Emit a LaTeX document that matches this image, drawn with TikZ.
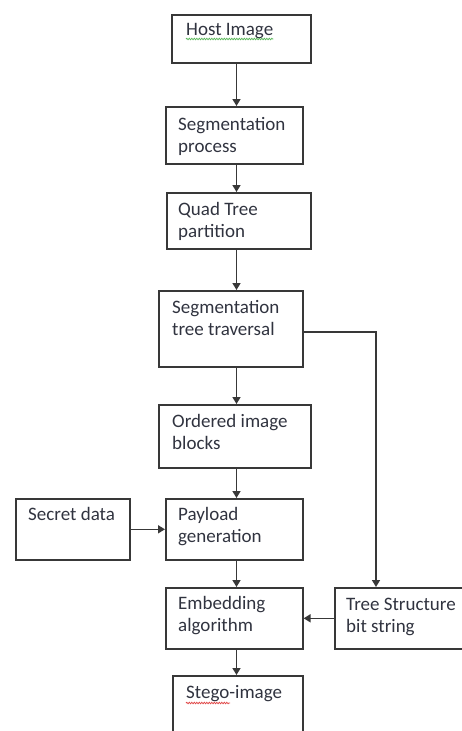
\documentclass[tikz,border=0pt]{standalone}
\usepackage{fontspec}
\setmainfont{Carlito}
\usepackage{tikz}
\usetikzlibrary{arrows.meta,decorations.pathmorphing}
\definecolor{boxline}{HTML}{383838}
\definecolor{ink}{HTML}{30333F}
\definecolor{spellgreen}{HTML}{5CB85C}
\definecolor{spellred}{HTML}{E04848}

\begin{document}
\begin{tikzpicture}[x=1pt,y=-1pt]
\tikzstyle{every node}+=[inner sep=0pt]
\tikzstyle{blk}=[draw=boxline, line width=1.6pt, anchor=north west]
\tikzstyle{txt}=[anchor=base west, align=left, text=ink, font=\fontsize{19}{22.5}\selectfont]
\tikzstyle{arr}=[draw=boxline, line width=1.6pt, -{Triangle[length=7pt,width=8pt]}]
\tikzstyle{squig}=[decorate, decoration={snake, amplitude=0.7pt, segment length=2.5pt}, line width=0.8pt]
\useasboundingbox (0,0) rectangle (462,731);
% boxes
\node[blk, minimum width=139pt, minimum height=48pt] (host) at (171,14) {};
\node[blk, minimum width=137pt, minimum height=57pt] (seg) at (165,106) {};
\node[blk, minimum width=144pt, minimum height=56pt] (quad) at (166,192) {};
\node[blk, minimum width=144pt, minimum height=76pt] (trav) at (158,290) {};
\node[blk, minimum width=152pt, minimum height=63pt] (order) at (158,404) {};
\node[blk, minimum width=114pt, minimum height=61pt] (secret) at (15,498) {};
\node[blk, minimum width=137pt, minimum height=61pt] (pay) at (165,498) {};
\node[blk, minimum width=137pt, minimum height=61pt] (emb) at (165,587) {};
\node[blk, minimum width=146pt, minimum height=61pt] (tree) at (334,587) {};
\node[blk, minimum width=130pt, minimum height=70pt] (stego) at (172,675) {};
% texts (base = last line)
\node[txt] (host-t) at (186,35) {Host Image};
\node[txt] (seg-t) at (178,152.5) {Segmentation\\process};
\node[txt] (quad-t) at (178,237.5) {Quad Tree\\partition};
\node[txt] (trav-t) at (172,335.5) {Segmentation\\tree traversal};
\node[txt] (order-t) at (172,449.5) {Ordered image\\blocks};
\node[txt] (secret-t) at (28,520) {Secret data};
\node[txt] (pay-t) at (178,542.5) {Payload\\generation};
\node[txt] (emb-t) at (178,631.5) {Embedding\\algorithm};
\node[txt] (tree-t) at (346,632.5) {Tree Structure\\bit string};
\node[txt] (stego-t) at (186,698) {Stego-image};
% spell check marks
\draw[squig, draw=spellgreen] ([yshift=-4pt]host-t.base west) -- ([yshift=-4pt]host-t.base east);
\draw[squig, draw=spellred] ([yshift=-5pt]stego-t.base west) -- ++(44,0);
% arrows
\coordinate (axis) at (236.5,0);
\coordinate (drop) at (376,0);
\draw[arr] (host.south -| axis) -- (seg.north -| axis);
\draw[arr] (seg.south -| axis) -- (quad.north -| axis);
\draw[arr] (quad.south -| axis) -- (trav.north -| axis);
\draw[arr] (trav.south -| axis) -- (order.north -| axis);
\draw[arr] (order.south -| axis) -- (pay.north -| axis);
\draw[arr] (pay.south -| axis) -- (emb.north -| axis);
\draw[arr] (emb.south -| axis) -- (stego.north -| axis);
\draw[arr] (secret.east) -- (pay.west);
\draw[arr] (tree.west) -- (emb.east);
\draw[arr] ([yshift=-3pt]trav.east) -| (tree.north -| drop);
\end{tikzpicture}
\end{document}
